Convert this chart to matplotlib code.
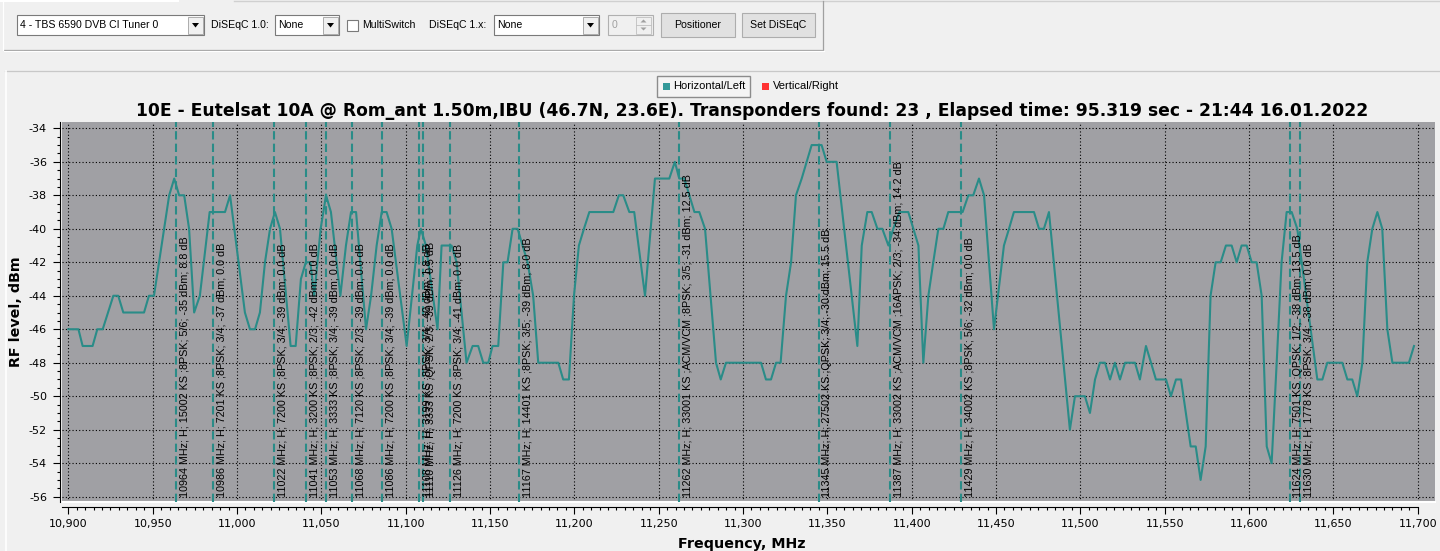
import matplotlib
matplotlib.use('Agg')
import matplotlib.pyplot as plt
from matplotlib.patches import Rectangle, Polygon
from matplotlib.ticker import MultipleLocator, FuncFormatter, FixedLocator
from matplotlib.transforms import offset_copy
import matplotlib.font_manager as fm

# ---------------- data ----------------
freq_mhz = [10900, 10906, 10908.5, 10914.4, 10917.2, 10920.4, 10926.7, 10929.6, 10932.6, 10944.9,
            10947.8, 10950.8, 10959.8, 10962.8, 10965.7, 10968.7, 10971.6, 10974.6, 10978, 10983.8,
            10992.9, 10995.9, 11004.7, 11007.7, 11010.7, 11013.6, 11016.6, 11019.6, 11022.5, 11025.5,
            11031.8, 11034.8, 11037.9, 11040.8, 11043.5, 11045.8, 11049.6, 11052.8, 11055.7, 11061.3,
            11064.6, 11067.6, 11070.6, 11076.5, 11079.5, 11082.8, 11085.8, 11088.7, 11091.7, 11100.6,
            11106.9, 11109, 11112, 11118.9, 11121.3, 11127.2, 11130.2, 11136.1, 11139.7, 11143,
            11146, 11149, 11151.5, 11154.9, 11157.9, 11160.4, 11163.4, 11166.4, 11169.3, 11172.3,
            11175.6, 11178.6, 11190.5, 11193.4, 11196.8, 11199.8, 11202.7, 11205.7, 11208.9, 11223.1,
            11226.4, 11229, 11232.6, 11235.5, 11241.9, 11247.8, 11256.3, 11259.6, 11262.2, 11265.2,
            11268.2, 11271.2, 11274.1, 11277.5, 11284, 11286.8, 11289.9, 11310.7, 11313.6, 11316.6,
            11319.6, 11322.3, 11325.5, 11328.5, 11331.4, 11334.8, 11340.7, 11346.6, 11349.6, 11355.5,
            11367.8, 11370.4, 11373.7, 11376.3, 11379.7, 11382.6, 11386.2, 11389.1, 11392.7, 11398,
            11401, 11404, 11406.9, 11409.9, 11412.8, 11415.8, 11418.8, 11421.7, 11430.2, 11433.6,
            11436.5, 11439.9, 11442.9, 11448.8, 11454.7, 11457.7, 11460.6, 11472.5, 11475.5, 11478.4,
            11481.4, 11493.8, 11496.8, 11502.7, 11505.7, 11508.7, 11511.6, 11514.6, 11517.6, 11520.5,
            11523.5, 11526.5, 11532.4, 11535.3, 11538.9, 11541.9, 11544.8, 11550.8, 11553.7, 11556.7,
            11559.7, 11565.4, 11568.4, 11571.3, 11574.3, 11577.2, 11580.2, 11583.2, 11586.3, 11589.7,
            11592.7, 11595.6, 11598.6, 11601.6, 11604.5, 11607.5, 11610.5, 11613.4, 11616.4, 11619.3,
            11622.3, 11625.3, 11628.6, 11640.5, 11643.5, 11646.4, 11655.3, 11658.3, 11661.2, 11664.2,
            11667.2, 11670.1, 11673.1, 11676.1, 11679, 11682, 11685, 11694.8, 11697.8]
level_dbm = [-46, -46, -47, -47, -46, -46, -44, -44, -45, -45,
             -44, -44, -38, -37, -38, -38, -40, -45, -44, -39,
             -39, -38, -45, -46, -46, -45, -42, -40, -39, -40,
             -47, -47, -43, -42, -42, -44, -40, -38, -39, -44,
             -41, -39, -39, -46, -44, -41, -39, -39, -40, -47,
             -41, -40, -41, -46, -41, -41, -42, -48, -47, -47,
             -48, -48, -47, -47, -42, -42, -40, -40, -41, -42,
             -44, -48, -48, -49, -49, -44, -41, -40, -39, -39,
             -38, -38, -39, -39, -44, -37, -37, -36, -37, -37,
             -38, -39, -39, -40, -48, -49, -48, -48, -49, -49,
             -48, -48, -44, -42, -38, -37, -35, -35, -36, -36,
             -47, -41, -39, -39, -40, -40, -41, -40, -39, -39,
             -40, -41, -48, -44, -42, -40, -40, -39, -39, -38,
             -38, -37, -38, -46, -41, -40, -39, -39, -40, -40,
             -39, -52, -50, -50, -51, -49, -48, -48, -49, -48,
             -49, -48, -48, -49, -47, -48, -49, -49, -50, -49,
             -49, -53, -53, -55, -53, -44, -42, -42, -41, -41,
             -42, -41, -41, -42, -42, -44, -53, -54, -48, -42,
             -39, -39, -40, -49, -49, -48, -48, -49, -49, -50,
             -48, -42, -40, -39, -40, -46, -48, -48, -47]

tp_freq = [10964, 10986, 11022, 11041, 11053, 11068, 11086, 11108, 11110, 11126,
           11167, 11262, 11345, 11387, 11429, 11624, 11630]
tp_label = [
    "10964 MHz; H; 15002 KS ;8PSK; 5/6; -35 dBm; 8.8 dB",
    "10986 MHz; H; 7201 KS ;8PSK; 3/4; -37 dBm; 0.0 dB",
    "11022 MHz; H; 7200 KS ;8PSK; 3/4; -39 dBm; 0.0 dB",
    "11041 MHz; H; 3200 KS ;8PSK; 2/3; -42 dBm; 0.0 dB",
    "11053 MHz; H; 3333 KS ;8PSK; 3/4; -39 dBm; 0.0 dB",
    "11068 MHz; H; 7120 KS ;8PSK; 2/3; -39 dBm; 0.0 dB",
    "11086 MHz; H; 7200 KS ;8PSK; 3/4; -39 dBm; 0.0 dB",
    "11108 MHz; H; 3199 KS ;8PSK; 3/4; -40 dBm; 1.8 dB",
    "11110 MHz; H; 3333 KS ;QPSK; 2/3; -39 dBm; 0.5 dB",
    "11126 MHz; H; 7200 KS ;8PSK; 3/4; -41 dBm; 0.0 dB",
    "11167 MHz; H; 14401 KS ;8PSK; 3/5; -39 dBm; 8.0 dB",
    "11262 MHz; H; 33001 KS ;ACM/VCM ;8PSK; 3/5; -31 dBm; 12.5 dB",
    "11345 MHz; H; 27502 KS ;QPSK; 3/4; -30 dBm; 15.5 dB",
    "11387 MHz; H; 33002 KS ;ACM/VCM ;16APSK; 2/3; -34 dBm; 14.2 dB",
    "11429 MHz; H; 34002 KS ;8PSK; 5/6; -32 dBm; 0.0 dB",
    "11624 MHz; H; 7501 KS ;QPSK; 1/2; -38 dBm; 13.5 dB",
    "11630 MHz; H; 1778 KS ;8PSK; 3/4; -38 dBm; 0.0 dB",
]

title = ("10E - Eutelsat 10A @ Rom_ant 1.50m,IBU (46.7N, 23.6E). Transponders found: 23 , "
         "Elapsed time: 95.319 sec - 21:44 16.01.2022")
x_label = "Frequency, MHz"
y_label = "RF level, dBm"
legend_labels = ["Horizontal/Left", "Vertical/Right"]
x_ticks = list(range(10900, 11701, 50))
y_ticks = list(range(-56, -33, 2))

# ---------------- style ----------------
TEAL = '#2a8c88'
PLOT_BG = '#a0a0a4'
FIG_BG = '#f0f0f0'
plt.rcParams['axes.unicode_minus'] = False

names = {f.name for f in fm.fontManager.ttflist}
narrow = next((n for n in ['Liberation Sans Narrow', 'DejaVu Sans Condensed', 'Liberation Sans']
               if n in names), 'DejaVu Sans')

W, H = 1440, 551
fig = plt.figure(figsize=(W / 100, H / 100), dpi=100, facecolor=FIG_BG)
renderer = fig.canvas.get_renderer()


def fit(s, target, family, weight='normal', base=10.0):
    t = fig.text(0, 0, s, fontsize=base, family=family, fontweight=weight)
    w = t.get_window_extent(renderer).width
    t.remove()
    return base * target / w


# background / UI layer in pixel coordinates
bg = fig.add_axes([0, 0, 1, 1])
bg.set_xlim(0, W)
bg.set_ylim(H, 0)
bg.axis('off')
bg.patch.set_alpha(0)
bg.set_zorder(0)

ui_fs = fit("4 - TBS 6590 DVB CI Tuner 0", 139, narrow)

# tab strip line at top
bg.plot([0, 178], [0.5, 0.5], color='white', lw=1.5)
bg.plot([234, 1440], [0.5, 0.5], color='#d0d0d0', lw=1)
# panel
bg.plot([3.5, 822.5, 822.5], [49.5, 49.5, 1], color='#a0a0a0', lw=0.9)
bg.plot([2.5, 2.5], [1, 49.5], color='white', lw=0.9)
bg.plot([3.5, 823.5], [50.5, 50.5], color='white', lw=0.9)


def combo(x0, x1, text):
    bg.add_patch(Rectangle((x0, 15), x1 - x0, 20, facecolor='white', edgecolor='#7a7a7a', lw=0.8))
    bg.add_patch(Rectangle((x1 - 16, 16.5), 15, 17, facecolor='#f0f0f0', edgecolor='#a0a0a0', lw=0.6))
    cx = x1 - 8.5
    bg.add_patch(Polygon([[cx - 3.5, 23], [cx + 3.5, 23], [cx, 27.5]], closed=True, color='black', lw=0))
    bg.text(x0 + 3, 25.5, text, fontsize=ui_fs, family=narrow, va='center', ha='left')


def button(x0, x1, text):
    bg.add_patch(Rectangle((x0, 13), x1 - x0, 24, facecolor='#e1e1e1', edgecolor='#adadad', lw=0.8))
    bg.text((x0 + x1) / 2, 25.5, text, fontsize=ui_fs, family=narrow, va='center', ha='center')


combo(17, 204, "4 - TBS 6590 DVB CI Tuner 0")
bg.text(211, 25.5, "DiSEqC 1.0:", fontsize=ui_fs, family=narrow, va='center', ha='left')
combo(275, 339, "None")
bg.add_patch(Rectangle((347, 19.5), 11, 11, facecolor='white', edgecolor='#7a7a7a', lw=0.8))
bg.text(362, 25.5, "MultiSwitch", fontsize=ui_fs, family=narrow, va='center', ha='left')
bg.text(429, 25.5, "DiSEqC 1.x:", fontsize=ui_fs, family=narrow, va='center', ha='left')
combo(494, 599, "None")
# spin box (disabled)
bg.add_patch(Rectangle((608, 15), 45, 20, facecolor='#f0f0f0', edgecolor='#b0b0b0', lw=0.8))
bg.add_patch(Rectangle((636, 16.5), 15, 17, facecolor='#f0f0f0', edgecolor='#c0c0c0', lw=0.6))
bg.plot([636, 651], [25, 25], color='#c0c0c0', lw=0.6)
bg.add_patch(Polygon([[640.5, 22.5], [646.5, 22.5], [643.5, 19.5]], closed=True, color='#a0a0a0', lw=0))
bg.add_patch(Polygon([[640.5, 27.5], [646.5, 27.5], [643.5, 30.5]], closed=True, color='#a0a0a0', lw=0))
bg.text(612, 25.5, "0", fontsize=ui_fs, family=narrow, va='center', ha='left', color='#a0a0a0')
button(661, 735, "Positioner")
button(742, 815, "Set DiSEqC")

# chart control frame
bg.plot([5, 1440], [70.5, 70.5], color='#c8c8c8', lw=0.9)
bg.plot([5.5, 5.5], [70.5, 551], color='white', lw=1.2)

# legend
leg_fs = fit(legend_labels[0], 72, narrow)
bg.add_patch(Rectangle((656.5, 75.5), 93, 21, facecolor='#f4f4f4', edgecolor='#8c8c8c', lw=1.0))
bg.add_patch(Rectangle((663, 82.5), 7, 7, facecolor='#339999', edgecolor='none'))
bg.text(673.5, 86, legend_labels[0], fontsize=leg_fs, family=narrow, va='center', ha='left')
bg.add_patch(Rectangle((762, 82.5), 7, 7, facecolor='#ff3333', edgecolor='none'))
bg.text(773, 86, legend_labels[1], fontsize=leg_fs, family=narrow, va='center', ha='left')

# title and axis labels
title_fs = fit(title, 1236, 'DejaVu Sans', 'bold')
bg.text(752, 115.5, title, fontsize=title_fs, family='DejaVu Sans', fontweight='bold',
        ha='center', va='baseline')
xl_fs = fit(x_label, 127, 'DejaVu Sans', 'bold')
bg.text(742, 548, x_label, fontsize=xl_fs, family='DejaVu Sans', fontweight='bold',
        ha='center', va='baseline')
yl_fs = fit(y_label, 110, 'DejaVu Sans', 'bold')
bg.text(16, 311.7, y_label, fontsize=yl_fs, family='DejaVu Sans', fontweight='bold',
        ha='center', va='center', rotation=90)

# ---------------- main chart ----------------
left, right, top, bottom = 62.3, 1435, 122.3, 501.7
ax = fig.add_axes([left / W, 1 - bottom / H, (right - left) / W, (bottom - top) / H])
ax.set_zorder(1)
ax.set_facecolor(PLOT_BG)
ax.set_xlim(10896.44, 11710.26)
ax.set_ylim(-56.30, -33.64)

for s in ['top', 'right']:
    ax.spines[s].set_visible(False)
ax.spines['left'].set_position(('outward', 2.0))
ax.spines['bottom'].set_position(('outward', 3.6))
ax.spines['left'].set_bounds(-56.3, -33.64)
ax.spines['bottom'].set_bounds(10896.44, 11700)
for s in ['left', 'bottom']:
    ax.spines[s].set_linewidth(0.8)

ax.xaxis.set_major_locator(FixedLocator(x_ticks))
ax.yaxis.set_major_locator(FixedLocator(y_ticks))
ax.xaxis.set_minor_locator(FixedLocator([v for v in range(10900, 11701, 5) if v % 50]))
ax.yaxis.set_minor_locator(FixedLocator([v / 2 for v in range(-112, -67) if v % 4]))
ax.xaxis.set_major_formatter(FuncFormatter(lambda v, p: f"{int(round(v)):,}"))
ax.yaxis.set_major_formatter(FuncFormatter(lambda v, p: f"{int(round(v))}"))

tick_fs = fit("10,900", 39, 'DejaVu Sans')
ax.tick_params(which='major', direction='out', length=5, width=0.8, pad=4, labelsize=tick_fs)
ax.tick_params(which='minor', direction='out', length=2.5, width=0.8)

ax.grid(True, which='major', color='black', linestyle=(0, (1, 2)), linewidth=0.8)
ax.set_axisbelow(True)

# white bottom edge of plot area
ax.axhline(-56.30, color='white', lw=1.5, zorder=2, clip_on=False)

ax.plot(freq_mhz, level_dbm, color=TEAL, lw=1.5, zorder=3)

lab_fs = fit(tp_label[0], 259, narrow)
lab_tr = offset_copy(ax.transData, fig=fig, x=3.5, y=0, units='dots')
for f, lab in zip(tp_freq, tp_label):
    ax.axvline(f, color=TEAL, lw=1.5, linestyle=(0, (4, 2)), zorder=4)
    ax.text(f, -56.0, lab, rotation=90, ha='left', va='bottom', transform=lab_tr,
            fontsize=lab_fs, family=narrow, color='black', zorder=5)

fig.savefig('out.png', dpi=100, facecolor=FIG_BG)
